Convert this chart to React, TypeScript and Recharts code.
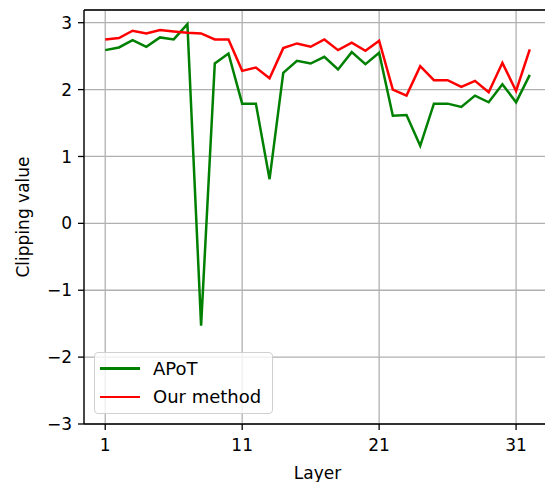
import { LineChart, Line, XAxis, YAxis, CartesianGrid, Legend, ReferenceLine } from "recharts";

const LAYERS = Array.from({ length: 32 }, (_, i) => i + 1);

const APOT = [
  2.59, 2.63, 2.74, 2.64, 2.78, 2.75, 2.98, -1.53, 2.39, 2.54,
  1.79, 1.79, 0.66, 2.25, 2.43, 2.39, 2.49, 2.3, 2.56, 2.38,
  2.55, 1.61, 1.62, 1.16, 1.79, 1.79, 1.74, 1.91, 1.81, 2.08,
  1.81, 2.22,
];

const OURS = [
  2.75, 2.77, 2.88, 2.84, 2.89, 2.87, 2.85, 2.84, 2.75, 2.75,
  2.28, 2.33, 2.17, 2.62, 2.69, 2.64, 2.75, 2.59, 2.7, 2.58,
  2.73, 2.0, 1.91, 2.35, 2.14, 2.14, 2.04, 2.13, 1.96, 2.4,
  1.98, 2.6,
];

const X_TICKS = [1, 11, 21, 31];
const Y_TICKS = [-3, -2, -1, 0, 1, 2, 3];
const X_DOMAIN: [number, number] = [-0.55, 33.55];
const Y_DOMAIN: [number, number] = [-3, 3.19];

const data = LAYERS.map((layer, i) => ({ layer, apot: APOT[i], ours: OURS[i] }));

const FONT = "DejaVu Sans, sans-serif";
const tickStyle = { fill: "#000", fontSize: 17, fontFamily: FONT };

function LegendBox() {
  const rows = [
    { name: "APoT", color: "#008000" },
    { name: "Our method", color: "#ff0000" },
  ];
  return (
    <div
      style={{
        width: 177,
        height: 59,
        border: "1px solid #d0d0d0",
        borderRadius: 4,
        background: "rgba(255,255,255,0.8)",
        fontFamily: FONT,
        fontSize: 18,
        color: "#000",
        paddingTop: 1,
        boxSizing: "content-box",
      }}
    >
      {rows.map((r) => (
        <div key={r.name} style={{ display: "flex", alignItems: "center", height: 28.5 }}>
          <div style={{ width: 40, height: 2.5, background: r.color, marginLeft: 5, marginRight: 13 }} />
          <span>{r.name}</span>
        </div>
      ))}
    </div>
  );
}

export default function App() {
  return (
    <LineChart width={545} height={474} data={data} margin={{ top: 2, right: 2, bottom: 0, left: 0 }}>
      <CartesianGrid stroke="#b0b0b0" strokeWidth={1.3} />
      <XAxis
        dataKey="layer"
        type="number"
        domain={X_DOMAIN}
        ticks={X_TICKS}
        allowDataOverflow
        height={58}
        tick={tickStyle}
        tickSize={6}
        tickMargin={9}
        stroke="#000"
        strokeWidth={1.3}
        label={{ value: "Layer", position: "insideBottom", offset: 3, style: { fill: "#000", fontSize: 17, fontFamily: FONT } }}
      />
      <YAxis
        type="number"
        domain={Y_DOMAIN}
        ticks={Y_TICKS}
        allowDataOverflow
        width={76}
        tick={tickStyle}
        tickSize={6}
        tickMargin={6}
        stroke="#000"
        strokeWidth={1.3}
        tickFormatter={(v: number) => String(v).replace("-", "\u2212")}
        label={(props: any) => {
          const vb = props.viewBox || {};
          const x = (vb.x ?? 0) + 15;
          const y = (vb.y ?? 0) + (vb.height ?? 0) / 2;
          return (
            <text
              x={x}
              y={y}
              transform={`rotate(-90, ${x}, ${y})`}
              textAnchor="middle"
              dominantBaseline="central"
              style={{ fill: "#000", fontSize: 17, fontFamily: FONT }}
            >
              Clipping value
            </text>
          );
        }}
      />
      <Line dataKey="apot" name="APoT" stroke="#008000" strokeWidth={2.5} dot={false} isAnimationActive={false} />
      <Line dataKey="ours" name="Our method" stroke="#ff0000" strokeWidth={2.5} dot={false} isAnimationActive={false} />
      <ReferenceLine y={Y_DOMAIN[1]} stroke="#000" strokeWidth={1.3} ifOverflow="visible" />
      <ReferenceLine x={X_DOMAIN[1]} stroke="#000" strokeWidth={1.3} ifOverflow="visible" />
      <Legend
        layout="horizontal"
        verticalAlign="middle"
        align="center"
        wrapperStyle={{ left: 86, top: 344, width: "auto" }}
        content={() => <LegendBox />}
      />
    </LineChart>
  );
}
